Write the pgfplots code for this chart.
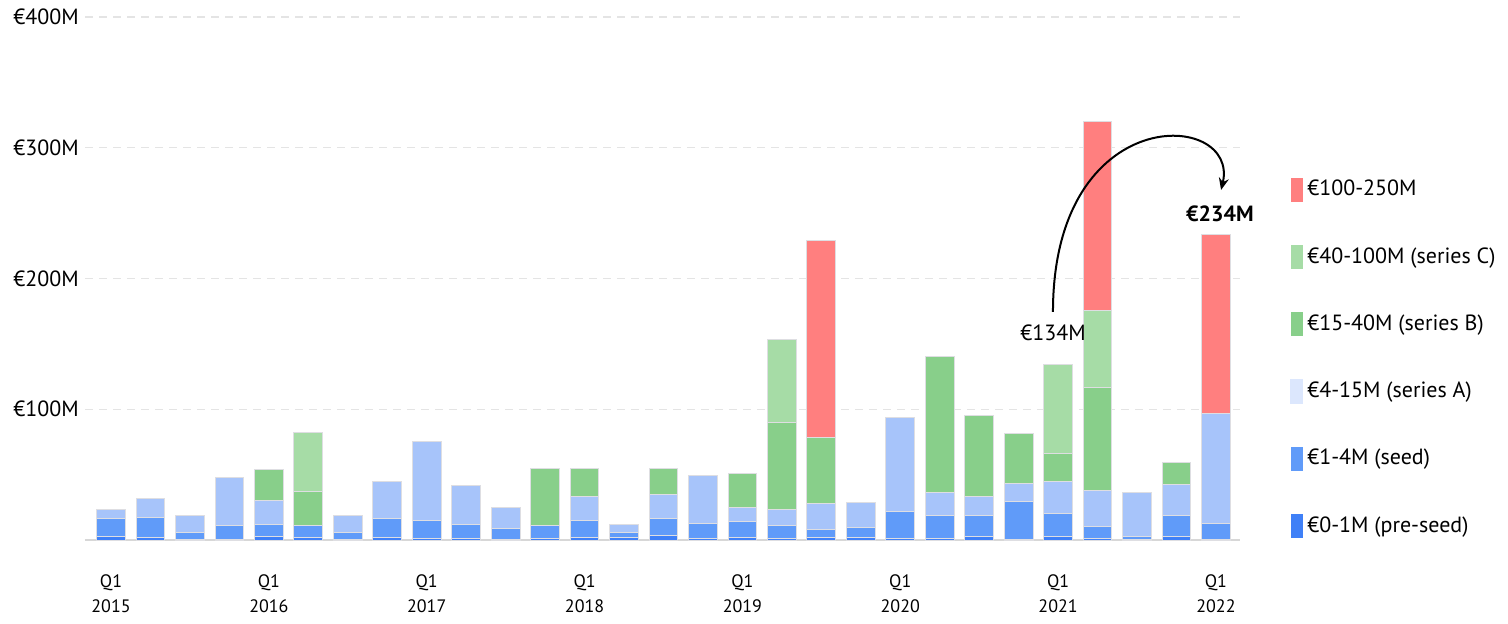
\documentclass[border=0pt]{standalone}
\usepackage{pgfplots}
\pgfplotsset{compat=1.18}
\usepackage{pgfplotstable}
\usepackage{fontspec}
\setmainfont{PT Sans}
\usetikzlibrary{arrows.meta}

\definecolor{cPre}{RGB}{63,128,247}
\definecolor{cSeed}{RGB}{96,155,249}
\definecolor{cA}{RGB}{167,196,250}
\definecolor{cAleg}{RGB}{220,231,253}
\definecolor{cB}{RGB}{136,207,138}
\definecolor{cC}{RGB}{166,220,166}
\definecolor{cR}{RGB}{255,127,127}
\definecolor{cBorder}{RGB}{222,222,226}
\definecolor{cGrid}{RGB}{228,228,228}
\definecolor{cBase}{RGB}{215,215,215}

\pgfplotstableread{
x pre seed A B C R
0 2.5 14 7.2 0 0 0
1 2 15 14.4 0 0 0
2 0.5 5.5 12.4 0 0 0
3 0.5 10.5 37 0 0 0
4 3 9 18 24 0 0
5 2.3 9 0 26 45.3 0
6 0.5 5.5 12.4 0 0 0
7 2.3 14.5 27.6 0 0 0
8 1.5 13.5 60 0 0 0
9 1 10.5 30.5 0 0 0
10 0.5 8.5 16 0 0 0
11 1 9.8 0 44.2 0 0
12 2.3 12.3 18.4 22 0 0
13 2.3 3.8 5.4 0 0 0
14 3.5 13 18.5 20 0 0
15 1 12 36 0 0 0
16 2.3 11.5 10.7 26 0 0
17 1 10 12.2 66.5 64 0
18 2.3 5.4 20 51 0 150.7
19 2.3 7.6 19.1 0 0 0
20 1 20.5 72.5 0 0 0
21 1 18.1 17 104 0 0
22 2.5 16.6 14 62.5 0 0
23 0.5 28.8 14 38.2 0 0
24 3 17.5 24 21.5 68 0
25 1 9.2 27.5 78.8 59.4 143.8
26 0.5 2 33.5 0 0 0
27 2.5 16.6 23.7 16.2 0 0
28 0.5 12.5 84 0 0 137
}\data

\begin{document}
\begin{tikzpicture}[x=1pt,y=1pt]
\useasboundingbox (-42.5,-41.5) rectangle (711.5,270);
\begin{axis}[
  at={(0,0)}, anchor=south west,
  scale only axis, width=577.5pt, height=261.5pt,
  xmin=-0.66, xmax=28.61, ymin=0, ymax=400,
  clip=false,
  ybar stacked, bar width=0.73,
  axis line style={draw=none},
  tick style={draw=none},
  ymajorgrids,
  grid style={cGrid, line width=0.6pt, dash pattern=on 4pt off 3pt},
  ytick={100,200,300,400},
  yticklabels={€100M,€200M,€300M,€400M},
  yticklabel style={anchor=west, inner xsep=0pt, xshift=-36pt, font=\fontsize{11}{13}\selectfont},
  xtick={0,4,...,28},
  xticklabels={{Q1\\2015},{Q1\\2016},{Q1\\2017},{Q1\\2018},{Q1\\2019},{Q1\\2020},{Q1\\2021},{Q1\\2022}},
  xticklabel style={align=center, yshift=-14pt, font=\fontsize{9}{12.5}\selectfont},
  reverse legend,
  legend cell align=left,
  legend style={at={(1.038,0.704)}, anchor=north west, draw=none, fill=none,
    font=\fontsize{11}{13}\selectfont, row sep=20.3pt,
    /tikz/every even column/.append style={column sep=0pt}},
  legend image code/.code={\fill[#1, draw=none] (0pt,-6pt) rectangle (6pt,6pt);},
  every axis plot/.append style={draw=cBorder, line width=0.5pt},
]
\addplot[fill=cPre] table[x=x,y=pre]{\data};
\addlegendentry{€0-1M (pre-seed)}
\addplot[fill=cSeed] table[x=x,y=seed]{\data};
\addlegendentry{€1-4M (seed)}
\addplot[fill=cA, legend image code/.code={\fill[cAleg] (0pt,-6pt) rectangle (6pt,6pt);}] table[x=x,y=A]{\data};
\addlegendentry{€4-15M (series A)}
\addplot[fill=cB] table[x=x,y=B]{\data};
\addlegendentry{€15-40M (series B)}
\addplot[fill=cC] table[x=x,y=C]{\data};
\addlegendentry{€40-100M (series C)}
\addplot[fill=cR] table[x=x,y=R]{\data};
\addlegendentry{€100-250M}

\draw[cBase, line width=1pt] (axis cs:-0.66,0) -- (axis cs:28.61,0);
\coordinate (L1) at (axis cs:23.87,158.3);
\coordinate (L2) at (axis cs:28.1,249.3);
\coordinate (P0) at (axis cs:23.87,174.4);
\coordinate (P1) at (axis cs:23.87,336.5);
\coordinate (P2) at (axis cs:28.61,328.9);
\coordinate (P3) at (axis cs:28.13,267.7);
\end{axis}
\node[font=\fontsize{11}{13}\selectfont] at (L1) {€134M};
\node[font=\fontsize{11}{13}\selectfont\bfseries] at (L2) {€234M};
\draw[black, line width=1pt, -{Stealth[length=6pt,width=5pt]}]
  (P0) .. controls (P1) and (P2) .. (P3);
\end{tikzpicture}
\end{document}
